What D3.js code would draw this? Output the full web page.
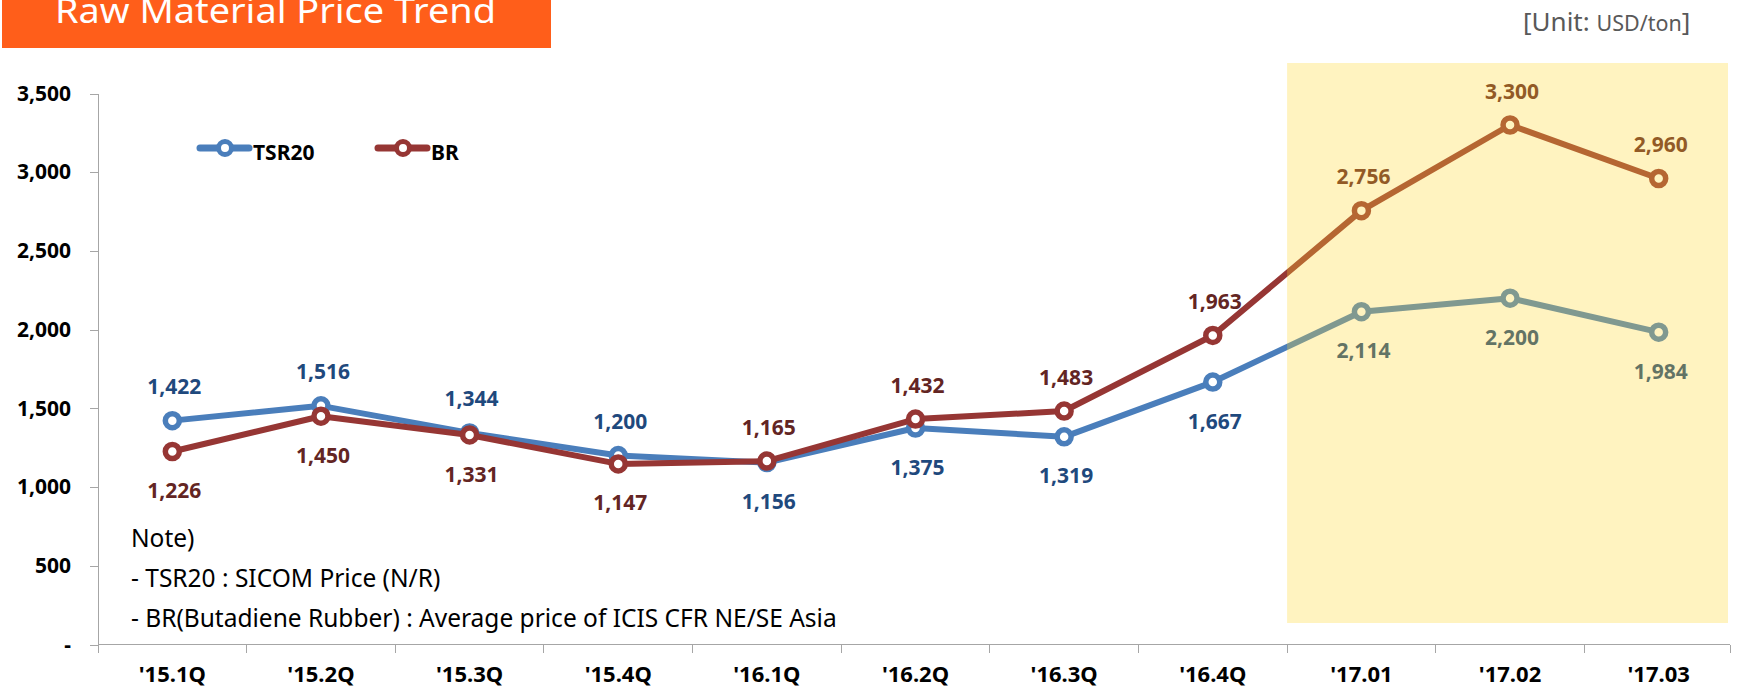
<!DOCTYPE html>
<html>
<head>
<meta charset="utf-8">
<script src="https://cdn.jsdelivr.net/npm/d3@7"></script>
<style>
  body { margin: 0; background: #fff; }
  svg text { font-family: "Noto Sans", "DejaVu Sans", sans-serif; }
  .axis path, .axis line { stroke: #a6a6a6; shape-rendering: crispEdges; }
  .axis text { font-size: 21px; font-weight: bold; fill: #000; }
  .point-label { font-size: 21px; font-weight: bold; }
  .note { font-size: 24.5px; fill: #000; }
</style>
</head>
<body>
<div id="chart"></div>
<script>
// values
const categories = ["'15.1Q", "'15.2Q", "'15.3Q", "'15.4Q", "'16.1Q", "'16.2Q", "'16.3Q", "'16.4Q", "'17.01", "'17.02", "'17.03"];
const tsr20Values = [1422, 1516, 1344, 1200, 1156, 1375, 1319, 1667, 2114, 2200, 1984];
const brValues = [1226, 1450, 1331, 1147, 1165, 1432, 1483, 1963, 2756, 3300, 2960];
const yTicks = [0, 500, 1000, 1500, 2000, 2500, 3000, 3500];
const highlighted = ["'17.01", "'17.02", "'17.03"];
const seriesNames = ['TSR20', 'BR'];
const noteLines = ['Note)', '- TSR20 : SICOM Price (N/R)', '- BR(Butadiene Rubber) : Average price of ICIS CFR NE/SE Asia'];
const titleText = 'Raw Material Price Trend';

class PriceTrend {

    constructor(_config) {
        this.config = {
            parentElement: _config.parentElement,
            containerWidth: 1739,
            containerHeight: 686,
            margin: {top: 93.5, right: 6, bottom: 41.5, left: 98},
            lineColors: {TSR20: '#4a7ebb', BR: '#963634'},
            labelColors: {TSR20: '#1f497d', BR: '#632523'},
            markerRadius: 7
        };
        this.initVis();
    }

    initVis() {
        let vis = this;
        const m = vis.config.margin;

        vis.width = vis.config.containerWidth - m.left - m.right;
        vis.height = vis.config.containerHeight - m.top - m.bottom;

        vis.svg = d3.select(vis.config.parentElement).append('svg')
            .attr('width', vis.config.containerWidth)
            .attr('height', vis.config.containerHeight);

        // title box, text runs off the top edge like in the slide
        vis.svg.append('rect')
            .attr('x', 2).attr('y', 0)
            .attr('width', 549).attr('height', 48)
            .attr('fill', '#ff5e1a');
        vis.svg.append('text')
            .attr('x', 55).attr('y', 23)
            .attr('fill', '#fff')
            .attr('textLength', 441)
            .attr('lengthAdjust', 'spacingAndGlyphs')
            .style('font-size', '35px')
            .text(titleText);

        const unit = vis.svg.append('text')
            .attr('x', 1523).attr('y', 31)
            .attr('fill', '#595959')
            .style('font-size', '26px');
        unit.append('tspan').text('[Unit: ');
        unit.append('tspan').style('font-size', '21.5px').text('USD/ton');
        unit.append('tspan').text(']');

        vis.chart = vis.svg.append('g')
            .attr('transform', `translate(${m.left},${m.top})`);

        vis.xScale = d3.scaleBand().domain(categories).range([0, vis.width]);
        vis.yScale = d3.scaleLinear().domain([0, 3500]).range([vis.height, 0]);

        vis.renderVis();
    }

    renderVis() {
        let vis = this;
        const cfg = vis.config;
        const cx = c => vis.xScale(c) + vis.xScale.bandwidth() / 2;

        // y axis
        const yAxis = d3.axisLeft(vis.yScale)
            .tickValues(yTicks)
            .tickSize(8)
            .tickPadding(19)
            .tickFormat(d => d === 0 ? '-' : d3.format(',')(d));
        vis.chart.append('g').attr('class', 'axis y-axis').call(yAxis)
            .call(g => g.select('.domain').attr('d', `M0,0V${vis.height}`));

        // x axis: ticks on the category boundaries, labels centred
        const xAxis = vis.chart.append('g').attr('class', 'axis x-axis')
            .attr('transform', `translate(0,${vis.height})`);
        xAxis.append('path').attr('class', 'domain').attr('d', `M0,0H${vis.width - 3}`);
        xAxis.selectAll('.tick-mark')
            .data(categories.map(c => vis.xScale(c)).concat([vis.width - 3]))
            .join('line')
            .attr('class', 'tick-mark')
            .attr('x1', d => d).attr('x2', d => d)
            .attr('y1', 0).attr('y2', 8);
        xAxis.selectAll('.x-label')
            .data(categories)
            .join('text')
            .attr('class', 'x-label')
            .attr('x', d => cx(d))
            .attr('y', 37)
            .attr('text-anchor', 'middle')
            .style('font-size', '22px')
            .text(d => d);

        // note text
        vis.svg.selectAll('.note')
            .data(noteLines)
            .join('text')
            .attr('class', 'note')
            .attr('x', 131)
            .attr('y', (d, i) => 547 + i * 40)
            .text(d => d);

        const series = [
            {name: 'TSR20', values: tsr20Values, other: brValues},
            {name: 'BR', values: brValues, other: tsr20Values}
        ];

        const line = d3.line()
            .x(d => cx(d.cat))
            .y(d => vis.yScale(d.value));

        series.forEach(s => {
            const pts = categories.map((c, i) => ({cat: c, value: s.values[i], other: s.other[i]}));
            const g = vis.chart.append('g').attr('class', 'series');

            g.append('path')
                .datum(pts)
                .attr('fill', 'none')
                .attr('stroke', cfg.lineColors[s.name])
                .attr('stroke-width', 6)
                .attr('stroke-linejoin', 'round')
                .attr('d', line);

            g.selectAll('circle')
                .data(pts)
                .join('circle')
                .attr('cx', d => cx(d.cat))
                .attr('cy', d => vis.yScale(d.value))
                .attr('r', cfg.markerRadius)
                .attr('fill', '#fff')
                .attr('stroke', cfg.lineColors[s.name])
                .attr('stroke-width', 5.5);

            // label goes above when this series is the higher one
            g.selectAll('.point-label')
                .data(pts)
                .join('text')
                .attr('class', 'point-label')
                .attr('x', d => cx(d.cat) + 2)
                .attr('y', d => vis.yScale(d.value) + (d.value > d.other ? -34 : 39))
                .attr('dy', '0.36em')
                .attr('text-anchor', 'middle')
                .attr('fill', cfg.labelColors[s.name])
                .text(d => d3.format(',')(d.value));
        });

        // legend
        const legend = vis.svg.append('g').attr('class', 'legend');
        const legendX = [200, 378];
        seriesNames.forEach((name, i) => {
            const lg = legend.append('g').attr('transform', `translate(${legendX[i]},148)`);
            lg.append('line')
                .attr('x1', 0).attr('x2', 49)
                .attr('stroke', cfg.lineColors[name])
                .attr('stroke-width', 7)
                .attr('stroke-linecap', 'round');
            lg.append('circle')
                .attr('cx', 25).attr('r', 6.5)
                .attr('fill', '#fff')
                .attr('stroke', cfg.lineColors[name])
                .attr('stroke-width', 5);
            lg.append('text')
                .attr('x', 53).attr('y', 12)
                .style('font-size', '21px')
                .style('font-weight', 'bold')
                .text(name);
        });

        // translucent yellow panel laid over the 2017 months
        const x0 = vis.xScale(highlighted[0]);
        vis.chart.append('rect')
            .attr('x', x0)
            .attr('y', 63 - cfg.margin.top)
            .attr('width', vis.width - 5 - x0)
            .attr('height', 623 - 63)
            .attr('fill', 'rgb(255,214,48)')
            .attr('fill-opacity', 0.3);
    }
}

new PriceTrend({parentElement: '#chart'});
</script>
</body>
</html>
